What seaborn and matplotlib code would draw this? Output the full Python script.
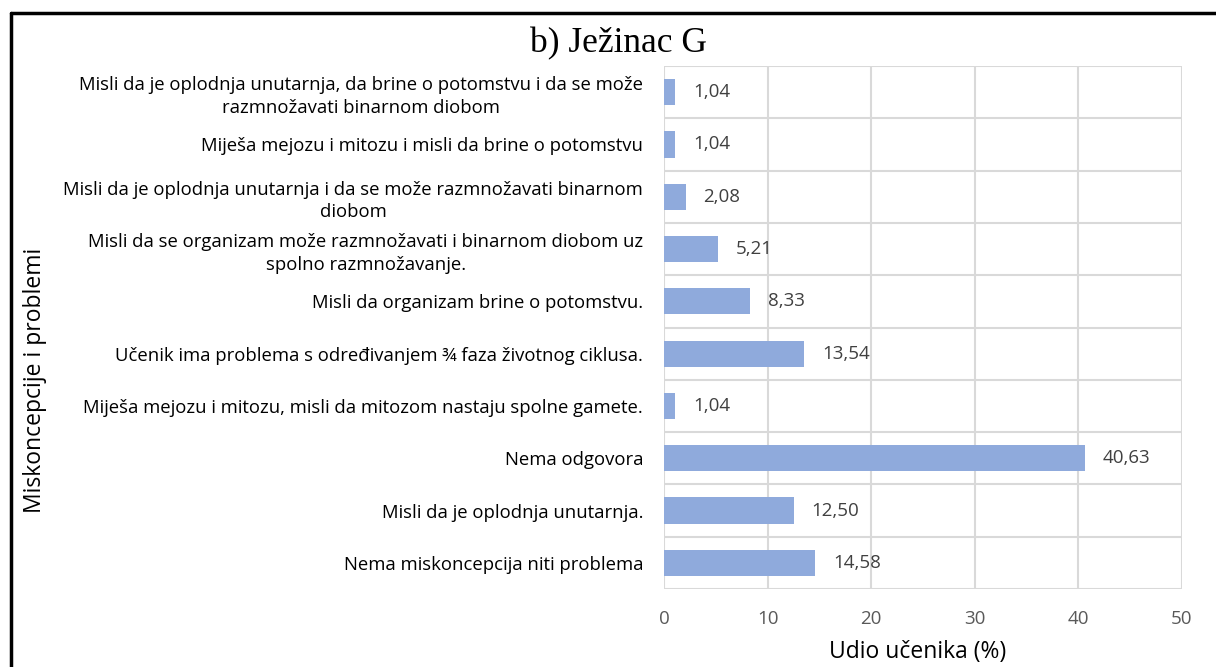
import matplotlib
matplotlib.use("Agg")
import matplotlib.pyplot as plt
import seaborn as sns
import pandas as pd
from matplotlib.lines import Line2D

categories = [
    "Misli da je oplodnja unutarnja, da brine o potomstvu i da se može\nrazmnožavati binarnom diobom",
    "Miješa mejozu i mitozu i misli da brine o potomstvu",
    "Misli da je oplodnja unutarnja i da se može razmnožavati binarnom\ndiobom",
    "Misli da se organizam može razmnožavati i binarnom diobom uz\nspolno razmnožavanje.",
    "Misli da organizam brine o potomstvu.",
    "Učenik ima problema s određivanjem ¾ faza životnog ciklusa.",
    "Miješa mejozu i mitozu, misli da mitozom nastaju spolne gamete.",
    "Nema odgovora",
    "Misli da je oplodnja unutarnja.",
    "Nema miskoncepcija niti problema",
]
values = [1.04, 1.04, 2.08, 5.21, 8.33, 13.54, 1.04, 40.63, 12.50, 14.58]
x_ticks = [0, 10, 20, 30, 40, 50]

title = "b) Ježinac G"
x_label = "Udio učenika (%)"
y_label = "Miskoncepcije i problemi"

sns.set_theme(style="white")
plt.rcParams["font.family"] = ["Open Sans", "DejaVu Sans"]

df = pd.DataFrame({"cat": categories, "val": values})

fig = plt.figure(figsize=(12.16, 6.67), dpi=100)
ax = fig.add_axes([664/1216, 1-589/667, (1182-664)/1216, (589-66)/667])

sns.barplot(data=df, x="val", y="cat", orient="h", color="#8FAADC",
            saturation=1, width=0.5, ax=ax, edgecolor="none")

ax.set_xlim(0, 50)
ax.set_xticks(x_ticks)
ax.set_xticklabels([str(t) for t in x_ticks], fontsize=13.5, color="#595959")
ax.tick_params(axis="x", length=0, pad=15)
ax.tick_params(axis="y", length=0, pad=15, labelsize=13.3, labelcolor="#000000")
for lbl in ax.get_yticklabels():
    lbl.set_multialignment("center")
    lbl.set_linespacing(1.32)

# gridlines
ax.grid(False)
for t in x_ticks:
    ax.axvline(t, color="#D9D9D9", lw=1.5, zorder=0)
n = len(categories)
for i in range(n + 1):
    ax.axhline(i - 0.5, color="#D9D9D9", lw=1.5, zorder=0)
ax.set_ylim(n - 0.5, -0.5)
for s in ax.spines.values():
    s.set_visible(False)

for i, v in enumerate(values):
    ax.annotate(f"{v:.2f}".replace(".", ","), (v, i), xytext=(13, 0),
                textcoords="offset points", va="center", ha="left",
                fontsize=13.5, color="#404040")

ax.set_xlabel("")
ax.set_ylabel("")
fig.text(918/1216, 1-652/667, x_label, ha="center", va="center",
         fontsize=16.5, color="#000000")
fig.text(35/1216, 1-380/667, y_label, rotation=90, ha="center", va="center",
         fontsize=16.5, color="#000000")
fig.text(618/1216, 1-44/667, title, ha="center", va="center", fontsize=25.5,
         family=["Liberation Serif", "DejaVu Serif"], color="#000000")

# outer frame (left and top edges visible)
fig.add_artist(Line2D([11/1216, 11/1216], [0, 1-13/667], transform=fig.transFigure,
                      color="black", lw=2.5))
fig.add_artist(Line2D([11/1216, 1], [1-13/667, 1-13/667], transform=fig.transFigure,
                      color="black", lw=2.5))

fig.savefig("out.png", dpi=100)
